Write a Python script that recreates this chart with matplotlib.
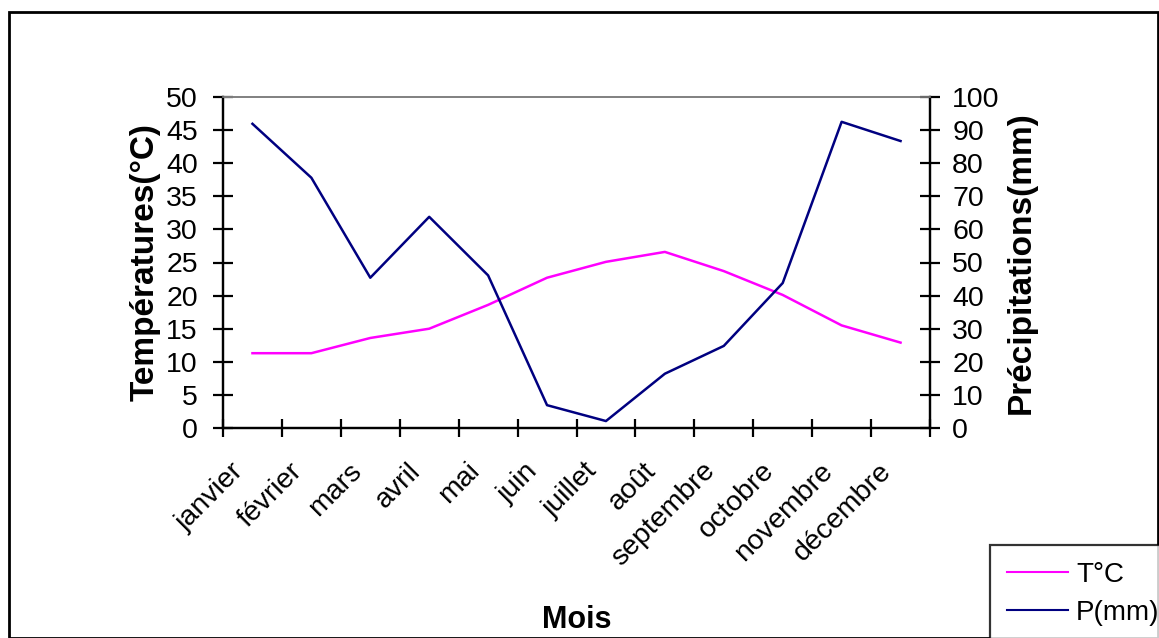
import matplotlib
matplotlib.use("Agg")
import matplotlib.pyplot as plt
from matplotlib.patches import Rectangle
from matplotlib.transforms import ScaledTranslation

plt.rcParams['font.family'] = ['Liberation Sans', 'DejaVu Sans']

mois = ['janvier', 'février', 'mars', 'avril', 'mai', 'juin', 'juillet',
        'août', 'septembre', 'octobre', 'novembre', 'décembre']
temperature = [11.3, 11.3, 13.6, 15.0, 18.6, 22.7, 25.1, 26.6, 23.7, 20.1, 15.5, 12.9]
precipitation = [91.9, 75.6, 45.4, 63.8, 46.1, 6.9, 2.1, 16.4, 24.8, 43.8, 92.5, 86.7]
temp_ticks = list(range(0, 55, 5))
prec_ticks = list(range(0, 110, 10))

W, H = 1159, 638
fig = plt.figure(figsize=(W / 100, H / 100), dpi=100)
ax = fig.add_axes([223 / W, 1 - 428 / H, (930 - 223) / W, (428 - 97) / H])
ax2 = ax.twinx()

x = list(range(len(mois)))
l1, = ax.plot(x, temperature, color='#ff00ff', lw=1.8)
l2, = ax2.plot(x, precipitation, color='#000080', lw=1.8)

ax.set_xlim(-0.5, len(mois) - 0.5)
ax.set_ylim(0, 50)
ax2.set_ylim(0, 100)
ax.set_yticks(temp_ticks)
ax2.set_yticks(prec_ticks)

# category labels between the tick marks
ax.set_xticks(x)
ax.set_xticklabels(mois, rotation=45, ha='right', va='center', rotation_mode='anchor', fontsize=20.5)
ax.tick_params(axis='x', which='major', length=0, pad=26)
shift = ScaledTranslation(-13 / 100, -3 / 100, fig.dpi_scale_trans)
for lab in ax.get_xticklabels():
    lab.set_transform(lab.get_transform() + shift)
ax.set_xticks([i - 0.5 for i in range(len(mois) + 1)], minor=True)
ax.tick_params(axis='x', which='minor', direction='inout', length=13, width=1.6, color='black')

ax.tick_params(axis='y', direction='inout', length=14, width=1.6, labelsize=20.5, pad=11)
ax2.tick_params(axis='y', direction='inout', length=14, width=1.6, labelsize=20.5, pad=9)

for a in (ax, ax2):
    for s in a.spines.values():
        s.set_linewidth(1.6)
        s.set_color('black')
    a.spines['top'].set_color('#808080')
    a.spines['top'].set_linewidth(1.2)

ax.set_ylabel('Températures(°C)', fontsize=24, fontweight='bold', labelpad=4)
ax2.set_ylabel('Précipitations(mm)', fontsize=24, fontweight='bold', labelpad=4)
ax.set_xlabel('Mois', fontsize=22, fontweight='bold', labelpad=24)

# border around the whole chart
fig.patches.append(Rectangle((9 / W, 0), 1 - 9 / W - 0.001, 1 - 12 / H, transform=fig.transFigure,
                             fill=False, edgecolor='black', lw=2))

leg = fig.legend([l1, l2], ['T°C', 'P(mm)'], loc='upper left',
                 bbox_to_anchor=(990 / W, 1 - 545 / H), fontsize=20, frameon=True,
                 fancybox=False, edgecolor='black', handlelength=2.2, handletextpad=0.3,
                 borderaxespad=0, labelspacing=0.45, borderpad=0.6)
leg.get_frame().set_linewidth(1.6)
for h in leg.get_lines():
    h.set_linewidth(1.5)

fig.savefig('out.png', dpi=100)
